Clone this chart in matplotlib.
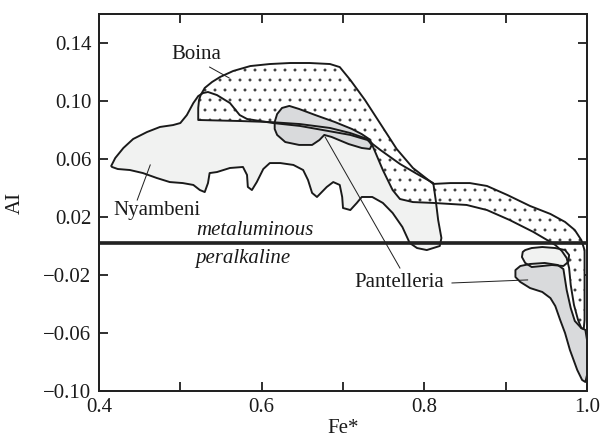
import matplotlib
matplotlib.use("Agg")
import matplotlib.pyplot as plt
from matplotlib.patches import Polygon
from matplotlib.ticker import FixedLocator

plt.rcParams['font.family'] = ['Liberation Serif', 'DejaVu Serif']
plt.rcParams['hatch.linewidth'] = 0.55

# ---------------- data (Fe*, AI) ----------------
nyambeni_fe = [0.415, 0.420, 0.430, 0.442, 0.459, 0.475, 0.491, 0.500, 0.508, 0.516, 0.522, 0.528,
               0.534, 0.545, 0.561, 0.573, 0.582, 0.614, 0.647, 0.675, 0.709, 0.730, 0.746, 0.770,
               0.791, 0.811, 0.814, 0.817, 0.821, 0.819, 0.803, 0.791, 0.782, 0.773, 0.761, 0.749,
               0.736, 0.723, 0.717, 0.709, 0.700, 0.699, 0.696, 0.688, 0.680, 0.668, 0.662, 0.657,
               0.651, 0.639, 0.623, 0.610, 0.602, 0.594, 0.588, 0.583, 0.582, 0.577, 0.561, 0.545,
               0.536, 0.534, 0.530, 0.524, 0.516, 0.503, 0.487, 0.471, 0.454, 0.438, 0.423, 0.416]
nyambeni_ai = [0.0552, 0.0607, 0.0676, 0.0738, 0.0786, 0.0821, 0.0834, 0.0848, 0.0903, 0.0986, 0.1034, 0.1055,
               0.1062, 0.1041, 0.0986, 0.0903, 0.0876, 0.0848, 0.0828, 0.0800, 0.0766, 0.0731, 0.0662, 0.0566,
               0.0497, 0.0434, 0.0317, 0.0179, 0.0055, 0.0000, -0.0028, -0.0014, 0.0021, 0.0131, 0.0228, 0.0297,
               0.0338, 0.0338, 0.0297, 0.0248, 0.0262, 0.0338, 0.0421, 0.0441, 0.0407, 0.0338, 0.0366, 0.0455,
               0.0524, 0.0559, 0.0572, 0.0572, 0.0531, 0.0441, 0.0386, 0.0407, 0.0490, 0.0545, 0.0538, 0.0510,
               0.0503, 0.0434, 0.0372, 0.0386, 0.0421, 0.0434, 0.0441, 0.0469, 0.0503, 0.0524, 0.0531, 0.0545]

nyambeni_blob_fe = [0.921, 0.920, 0.924, 0.932, 0.945, 0.957, 0.971, 0.977, 0.978, 0.973, 0.961, 0.945, 0.932, 0.924]
nyambeni_blob_ai = [-0.0041, -0.0076, -0.0117, -0.0145, -0.0138, -0.0131, -0.0138, -0.0110, -0.0062, -0.0028,
                    -0.0014, -0.0007, -0.0014, -0.0028]

boina_fe = [0.522, 0.522, 0.523, 0.525, 0.530, 0.539, 0.549, 0.565, 0.586, 0.610, 0.635, 0.659,
            0.684, 0.696, 0.709, 0.727, 0.747, 0.766, 0.786, 0.805, 0.811, 0.832, 0.856, 0.877,
            0.902, 0.930, 0.955, 0.973, 0.985, 0.993, 0.997, 0.997, 0.997, 0.997, 0.996, 0.993,
            0.989, 0.984, 0.980, 0.978, 0.975, 0.969, 0.961, 0.951, 0.934, 0.905, 0.877, 0.852,
            0.811, 0.786, 0.770, 0.761, 0.749, 0.737, 0.730, 0.709, 0.684, 0.647, 0.610, 0.573]
boina_ai = [0.0869, 0.0952, 0.1007, 0.1041, 0.1090, 0.1131, 0.1166, 0.1207, 0.1241, 0.1255, 0.1262, 0.1262,
            0.1255, 0.1234, 0.1145, 0.1007, 0.0834, 0.0669, 0.0538, 0.0455, 0.0428, 0.0434, 0.0434, 0.0414,
            0.0352, 0.0276, 0.0221, 0.0166, 0.0110, 0.0041, -0.0028, -0.0131, -0.0303, -0.0510, -0.0572, -0.0566,
            -0.0510, -0.0407, -0.0269, -0.0152, -0.0083, -0.0034, 0.0007, 0.0041, 0.0097, 0.0179, 0.0248, 0.0283,
            0.0297, 0.0303, 0.0324, 0.0386, 0.0524, 0.0683, 0.0738, 0.0779, 0.0814, 0.0841, 0.0855, 0.0862]

pant_upper_fe = [0.616, 0.619, 0.625, 0.634, 0.646, 0.666, 0.690, 0.711, 0.723, 0.732, 0.736,
                 0.733, 0.723, 0.707, 0.686, 0.677, 0.671, 0.662, 0.646, 0.629, 0.619, 0.616]
pant_upper_ai = [0.0855, 0.0910, 0.0952, 0.0966, 0.0945, 0.0903, 0.0855, 0.0807, 0.0772, 0.0738, 0.0703,
                 0.0669, 0.0676, 0.0703, 0.0752, 0.0766, 0.0731, 0.0697, 0.0697, 0.0717, 0.0766, 0.0807]

pant_lower_fe = [0.912, 0.918, 0.930, 0.948, 0.964, 0.971, 0.975, 0.980, 0.985, 0.993, 0.998, 1.000,
                 1.000, 1.000, 0.998, 0.994, 0.988, 0.979, 0.973, 0.967, 0.961, 0.955, 0.945, 0.930,
                 0.918, 0.912]
pant_lower_ai = [-0.0166, -0.0138, -0.0124, -0.0117, -0.0131, -0.0159, -0.0303, -0.0428, -0.0517, -0.0566,
                 -0.0579, -0.0648, -0.0772, -0.0890, -0.0938, -0.0924, -0.0855, -0.0717, -0.0600, -0.0510,
                 -0.0414, -0.0359, -0.0317, -0.0290, -0.0248, -0.0214]

boundary_ai = 0.002

x_ticks = [0.4, 0.6, 0.8, 1.0]
x_ticklabels = ['0.4', '0.6', '0.8', '1.0']
x_minor = [0.5, 0.7, 0.9]
y_ticks = [-0.10, -0.06, -0.02, 0.02, 0.06, 0.10, 0.14]
y_ticklabels = ['\u22120.10', '\u22120.06', '\u22120.02', '0.02', '0.06', '0.10', '0.14']

# label positions and leader lines (Fe*, AI)
labels = {
    'Boina': (0.520, 0.1324),
    'Nyambeni': (0.471, 0.0248),
    'Pantelleria': (0.769, -0.0255),
}
leader_lines = [
    ([0.536, 0.560], [0.1234, 0.1159]),
    ([0.447, 0.463], [0.0317, 0.0559]),
    ([0.678, 0.770], [0.0752, -0.0152]),
    ([0.834, 0.927], [-0.0255, -0.0234]),
]

# ---------------- figure ----------------
fig = plt.figure(figsize=(601 / 120, 441 / 120), dpi=120)
ax = fig.add_axes([99 / 601, 1 - 391 / 441, 488 / 601, 377 / 441])
ax.set_xlim(0.4, 1.0)
ax.set_ylim(-0.10, 0.16)

light = '#f1f2f1'
dark = '#d9dadc'
edge = '#1a1a1a'
olw = 1.15

def poly(fe, ai, fc, z, hatch=None, hc=None):
    pts = list(zip(fe, ai))
    if hatch:
        p = Polygon(pts, closed=True, facecolor=fc, edgecolor=hc, linewidth=0, hatch=hatch, zorder=z)
    else:
        p = Polygon(pts, closed=True, facecolor=fc, edgecolor='none', zorder=z)
    ax.add_patch(p)
    o = Polygon(pts, closed=True, facecolor='none', edgecolor=edge, linewidth=olw,
                joinstyle='round', zorder=10)
    ax.add_patch(o)

poly(nyambeni_fe, nyambeni_ai, light, 1)
poly(boina_fe, boina_ai, 'white', 2, hatch='..', hc='#3a3a3a')
poly(pant_upper_fe, pant_upper_ai, dark, 3)
poly(pant_lower_fe, pant_lower_ai, dark, 3)
poly(nyambeni_blob_fe, nyambeni_blob_ai, light, 4)

ax.axhline(boundary_ai, color='#222222', linewidth=2.2, zorder=12)

for xs, ys in leader_lines:
    ax.plot(xs, ys, color='#222222', linewidth=0.6, zorder=11)

fs = 12.5
for name, (fx, fy) in labels.items():
    ax.text(fx, fy, name, ha='center', va='center', fontsize=fs, color='#1a1a1a', zorder=13)

ax.text(0.592, 0.0110, 'metaluminous', style='italic', ha='center', va='center', fontsize=fs,
        color='#1a1a1a', zorder=13)
ax.text(0.577, -0.0083, 'peralkaline', style='italic', ha='center', va='center', fontsize=fs,
        color='#1a1a1a', zorder=13)

ax.xaxis.set_major_locator(FixedLocator(x_ticks))
ax.set_xticklabels(x_ticklabels)
ax.xaxis.set_minor_locator(FixedLocator(x_minor))
ax.yaxis.set_major_locator(FixedLocator(y_ticks))
ax.set_yticklabels(y_ticklabels)

ax.tick_params(which='both', direction='in', top=True, right=True, length=5.5, width=1.1,
               color='#222222', labelsize=fs, labelcolor='#1a1a1a', pad=4.5)
for s in ax.spines.values():
    s.set_linewidth(1.2)
    s.set_color('#222222')
    s.set_zorder(15)

ax.set_xlabel('Fe*', fontsize=fs, color='#1a1a1a', labelpad=1)
ax.set_ylabel('AI', fontsize=fs, color='#1a1a1a', labelpad=11)

fig.savefig('out.png', dpi=120)
